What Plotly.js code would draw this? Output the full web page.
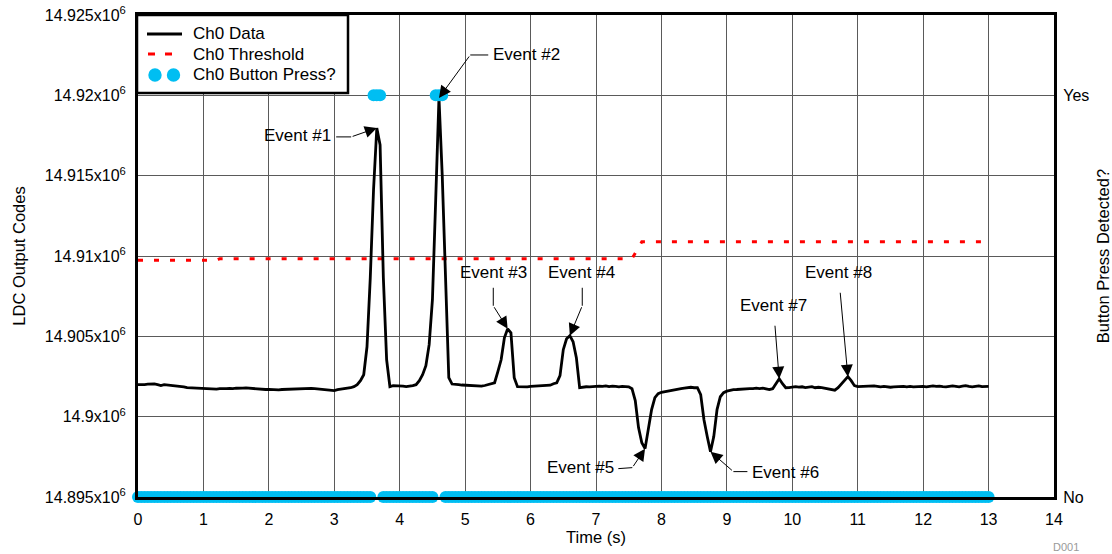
<!DOCTYPE html>
<html><head><meta charset="utf-8">
<script src="https://cdn.plot.ly/plotly-3.0.1.min.js"></script>
<style>html,body{margin:0;padding:0;background:#fff}#chart{width:1112px;height:554px}</style>
</head><body><div id="chart"></div>
<script>
// ---- sample times (s) ----
const timeSec = [
 0,0.05,0.1,0.15,0.2,0.25,0.3,0.35,0.4,0.45,0.5,0.55,0.6,0.65,0.7,0.75,0.8,0.85,0.9,0.95,
 1,1.05,1.1,1.15,1.2,1.25,1.3,1.35,1.4,1.45,1.5,1.55,1.6,1.65,1.7,1.75,1.8,1.85,1.9,1.95,
 2,2.05,2.1,2.15,2.2,2.25,2.3,2.35,2.4,2.45,2.5,2.55,2.6,2.65,2.7,2.75,2.8,2.85,2.9,2.95,
 3,3.05,3.1,3.15,3.2,3.25,3.3,3.35,3.4,3.45,3.5,3.55,3.6,3.65,3.7,3.75,3.8,3.85,3.9,3.95,
 4,4.05,4.1,4.15,4.2,4.25,4.3,4.35,4.4,4.45,4.5,4.55,4.6,4.65,4.7,4.75,4.8,4.85,4.9,4.95,
 5,5.05,5.1,5.15,5.2,5.25,5.3,5.35,5.4,5.45,5.5,5.55,5.6,5.65,5.7,5.75,5.8,5.85,5.9,5.95,
 6,6.05,6.1,6.15,6.2,6.25,6.3,6.35,6.4,6.45,6.5,6.55,6.6,6.65,6.7,6.75,6.8,6.85,6.9,6.95,
 7,7.05,7.1,7.15,7.2,7.25,7.3,7.35,7.4,7.45,7.5,7.55,7.6,7.65,7.7,7.75,7.8,7.85,7.9,7.95,
 8,8.05,8.1,8.15,8.2,8.25,8.3,8.35,8.4,8.45,8.5,8.55,8.6,8.65,8.7,8.75,8.8,8.85,8.9,8.95,
 9,9.05,9.1,9.15,9.2,9.25,9.3,9.35,9.4,9.45,9.5,9.55,9.6,9.65,9.7,9.75,9.8,9.85,9.9,9.95,
 10,10.05,10.1,10.15,10.2,10.25,10.3,10.35,10.4,10.45,10.5,10.55,10.6,10.65,10.7,10.75,10.8,10.85,10.9,10.95,
 11,11.05,11.1,11.15,11.2,11.25,11.3,11.35,11.4,11.45,11.5,11.55,11.6,11.65,11.7,11.75,11.8,11.85,11.9,11.95,
 12,12.05,12.1,12.15,12.2,12.25,12.3,12.35,12.4,12.45,12.5,12.55,12.6,12.65,12.7,12.75,12.8,12.85,12.9,12.95,
 13
];
// ---- Ch0 LDC output codes ----
const ch0Data = [
 14901990,14901980,14902000,14902020,14902050,14902040,14901990,14901930,14901990,14901970,14901960,14901930,14901920,14901870,14901860,14901810,14901800,14901810,14901770,14901750,
 14901740,14901750,14901730,14901740,14901720,14901740,14901730,14901750,14901760,14901740,14901770,14901760,14901780,14901790,14901770,14901760,14901740,14901720,14901700,14901690,
 14901700,14901680,14901690,14901670,14901690,14901700,14901720,14901710,14901730,14901740,14901720,14901750,14901740,14901760,14901750,14901730,14901720,14901700,14901680,14901640,
 14901620,14901680,14901700,14901720,14901750,14901800,14901870,14901990,14902240,14902610,14904350,14908640,14914120,14917970,14916910,14908640,14903540,14901870,14901930,14901920,
 14901940,14901900,14901870,14901880,14901930,14901990,14902240,14902610,14903170,14904480,14907280,14913500,14919840,14915000,14909100,14902430,14902030,14902030,14901990,14901970,
 14901960,14901930,14901920,14901910,14901930,14901900,14901940,14901990,14902030,14902110,14902800,14903540,14904910,14905470,14905220,14902430,14901870,14901860,14901870,14901860,
 14901880,14901900,14901890,14901910,14901920,14901940,14901960,14902050,14902110,14902550,14904170,14904850,14905040,14904660,14903670,14901800,14901840,14901860,14901850,14901880,
 14901870,14901900,14901890,14901920,14901870,14901900,14901880,14901860,14901890,14901870,14901860,14901740,14901000,14899320,14898380,14898010,14899320,14900440,14901180,14901430,
 14901520,14901560,14901620,14901650,14901680,14901710,14901740,14901770,14901800,14901830,14901800,14901810,14901370,14899810,14898760,14897820,14898760,14900440,14901240,14901490,
 14901590,14901650,14901680,14901690,14901710,14901740,14901720,14901750,14901740,14901770,14901750,14901780,14901730,14901680,14901740,14902050,14902360,14902050,14901800,14901810,
 14901830,14901870,14901840,14901860,14901810,14901850,14901870,14901800,14901830,14901810,14901780,14901740,14901690,14901650,14901800,14902050,14902300,14902490,14902240,14901930,
 14901870,14901880,14901900,14901870,14901880,14901920,14901890,14901860,14901880,14901850,14901830,14901860,14901880,14901870,14901890,14901860,14901880,14901850,14901870,14901900,
 14901880,14901860,14901890,14901920,14901880,14901900,14901870,14901850,14901880,14901910,14901890,14901860,14901900,14901930,14901880,14901860,14901890,14901920,14901870,14901890,
 14901880
];
// ---- Ch0 button press detected (0 = No, 1 = Yes) ----
const buttonPress = [
 0,0,0,0,0,0,0,0,0,0,0,0,0,0,0,0,0,0,0,0,
 0,0,0,0,0,0,0,0,0,0,0,0,0,0,0,0,0,0,0,0,
 0,0,0,0,0,0,0,0,0,0,0,0,0,0,0,0,0,0,0,0,
 0,0,0,0,0,0,0,0,0,0,0,0,1,1,1,0,0,0,0,0,
 0,0,0,0,0,0,0,0,0,0,0,1,1,1,0,0,0,0,0,0,
 0,0,0,0,0,0,0,0,0,0,0,0,0,0,0,0,0,0,0,0,
 0,0,0,0,0,0,0,0,0,0,0,0,0,0,0,0,0,0,0,0,
 0,0,0,0,0,0,0,0,0,0,0,0,0,0,0,0,0,0,0,0,
 0,0,0,0,0,0,0,0,0,0,0,0,0,0,0,0,0,0,0,0,
 0,0,0,0,0,0,0,0,0,0,0,0,0,0,0,0,0,0,0,0,
 0,0,0,0,0,0,0,0,0,0,0,0,0,0,0,0,0,0,0,0,
 0,0,0,0,0,0,0,0,0,0,0,0,0,0,0,0,0,0,0,0,
 0,0,0,0,0,0,0,0,0,0,0,0,0,0,0,0,0,0,0,0,
 0
];
// ---- Ch0 threshold ----
const thresholdTime  = [0, 1.2, 1.25, 7.55, 7.7, 13];
const thresholdValue = [14909730, 14909730, 14909830, 14909830, 14910880, 14910880];
// ---- ticks ----
const xTickValues = [0,1,2,3,4,5,6,7,8,9,10,11,12,13,14];
const yTickValues = [14895000,14900000,14905000,14910000,14915000,14920000,14925000];
const yTickLabels = ['14.895x10<sup>6</sup>','14.9x10<sup>6</sup>','14.905x10<sup>6</sup>','14.91x10<sup>6</sup>','14.915x10<sup>6</sup>','14.92x10<sup>6</sup>','14.925x10<sup>6</sup>'];
const buttonTickValues = [0, 1];
const buttonTickLabels = ['No', 'Yes'];
// ---- series names ----
const seriesNames = ['Ch0 Data', 'Ch0 Threshold', 'Ch0 Button Press?'];
// ---- events ----
const eventLabels = ['Event #1','Event #2','Event #3','Event #4','Event #5','Event #6','Event #7','Event #8'];
const eventTimes  = [3.65, 4.6, 5.65, 6.6, 7.75, 8.75, 9.8, 10.85];

// label placement (layout only): text position, leader segment, arrow tail
const eventLayout = [
 {tx:2.431, ty:14917475, seg:[[3.029,14917413],[3.258,14917413]], tail:[3.258,14917413]},
 {tx:5.934, ty:14922512, seg:[[5.353,14922512],[5.078,14922512]], tail:[5.078,14922512]},
 {tx:5.430, ty:14908955, seg:[[5.430,14908022],[5.430,14906903]], tail:[5.430,14906903]},
 {tx:6.775, ty:14908955, seg:[[6.790,14908022],[6.790,14906903]], tail:[6.790,14906903]},
 {tx:6.760, ty:14896828, seg:[[7.341,14896766],[7.555,14896828]], tail:[7.555,14896828]},
 {tx:9.895, ty:14896517, seg:[[9.314,14896580],[9.100,14896580]], tail:[9.100,14896580]},
 {tx:9.711, ty:14906903, seg:null, tail:null},
 {tx:10.705, ty:14908955, seg:null, tail:null}
];

const FONT = 'Liberation Sans, Arial, Helvetica, sans-serif';
const COLORS = {data:'#000000', threshold:'#FF0000', press:'#00BEF2'};
const annotations = [];
const shapes = [];
eventLabels.forEach((lab, i) => {
  const idx = timeSec.findIndex(t => Math.abs(t - eventTimes[i]) < 1e-9);
  const L = eventLayout[i];
  if (L.tail) {
    annotations.push({x:L.tx, y:L.ty, xref:'x', yref:'y', text:lab, showarrow:false,
      font:{family:FONT, size:17, color:'#000'}, xanchor:'center', yanchor:'middle'});
    annotations.push({x:timeSec[idx], y:ch0Data[idx], xref:'x', yref:'y',
      ax:L.tail[0], ay:L.tail[1], axref:'x', ayref:'y', text:'', showarrow:true,
      arrowhead:2, arrowsize:2.4, arrowwidth:1, arrowcolor:'#000', standoff:0, startstandoff:0});
    shapes.push({type:'line', xref:'x', yref:'y', x0:L.seg[0][0], y0:L.seg[0][1],
      x1:L.seg[1][0], y1:L.seg[1][1], line:{color:'#000', width:1}});
  } else {
    annotations.push({x:timeSec[idx], y:ch0Data[idx], xref:'x', yref:'y',
      ax:L.tx, ay:L.ty, axref:'x', ayref:'y', text:lab, showarrow:true,
      arrowhead:2, arrowsize:2.4, arrowwidth:1, arrowcolor:'#000', standoff:0, startstandoff:9,
      font:{family:FONT, size:17, color:'#000'}});
  }
});
annotations.push({x:1.013, y:-0.103, xref:'paper', yref:'paper', text:'D001', showarrow:false,
  font:{family:FONT, size:11, color:'#999'}, xanchor:'center', yanchor:'middle'});

// ---- hand-built legend box (paper coordinates) ----
const px2x = px => (px - 138) / 916;
const py2y = py => (497.5 - py) / 482.5;
shapes.push({type:'rect', xref:'paper', yref:'paper', layer:'above',
  x0:px2x(137), x1:px2x(348), y0:py2y(93), y1:py2y(15),
  fillcolor:'#fff', line:{color:'#000', width:2.5}});
shapes.push({type:'line', xref:'paper', yref:'paper', layer:'above',
  x0:px2x(147), x1:px2x(182), y0:py2y(34), y1:py2y(34), line:{color:COLORS.data, width:3}});
shapes.push({type:'line', xref:'paper', yref:'paper', layer:'above',
  x0:px2x(148), x1:px2x(172), y0:py2y(54), y1:py2y(54), line:{color:COLORS.threshold, width:3, dash:'7px,10px'}});
[155, 173.5].forEach(cx => shapes.push({type:'circle', xref:'paper', yref:'paper', layer:'above',
  xsizemode:'pixel', ysizemode:'pixel', xanchor:px2x(cx), yanchor:py2y(75),
  x0:-6.7, x1:6.7, y0:-6.7, y1:6.7, fillcolor:COLORS.press, line:{width:0}}));
[34, 55, 75].forEach((py, i) => annotations.push({x:px2x(191), y:py2y(py), xref:'paper', yref:'paper',
  text:seriesNames[i], showarrow:false, xanchor:'left', yanchor:'middle',
  font:{family:FONT, size:17, color:'#000'}}));

const traces = [
 {x:timeSec, y:buttonPress, yaxis:'y2', type:'scatter', mode:'markers', name:seriesNames[2],
  marker:{color:COLORS.press, size:12, line:{width:0}}, cliponaxis:false},
 {x:thresholdTime, y:thresholdValue, type:'scatter', mode:'lines', name:seriesNames[1],
  line:{color:COLORS.threshold, width:3, dash:'5px,11px'}},
 {x:timeSec, y:ch0Data, type:'scatter', mode:'lines', name:seriesNames[0],
  line:{color:COLORS.data, width:2.8}}
];

const axisCommon = {showline:true, linewidth:3, linecolor:'#000', mirror:true, zeroline:false,
  showgrid:true, gridcolor:'#5a5a5a', gridwidth:1, ticks:'outside', tickcolor:'rgba(0,0,0,0)',
  automargin:false, tickfont:{family:FONT, size:16, color:'#000'}};

const layout = {
  width:1112, height:554,
  margin:{l:138, r:58, t:15, b:57, pad:0},
  paper_bgcolor:'#fff', plot_bgcolor:'#fff',
  font:{family:FONT, color:'#000'},
  showlegend:false,
  xaxis:Object.assign({}, axisCommon, {range:[0,14], tickmode:'array', tickvals:xTickValues, ticklen:6,
    title:{text:'Time (s)', font:{family:FONT, size:16.5, color:'#000'}, standoff:4}}),
  yaxis:Object.assign({}, axisCommon, {range:[14895000,14925000], tickmode:'array', tickvals:yTickValues,
    ticktext:yTickLabels, ticklen:6,
    title:{text:'LDC Output Codes', font:{family:FONT, size:16.5, color:'#000'}, standoff:16}}),
  yaxis2:{overlaying:'y', side:'right', range:[0,1.2], tickmode:'array', tickvals:buttonTickValues,
    ticktext:buttonTickLabels, showgrid:false, zeroline:false, showline:false, ticks:'outside', ticklen:5,
    tickcolor:'rgba(0,0,0,0)', automargin:false, tickfont:{family:FONT, size:16, color:'#000'},
    title:{text:'Button Press Detected?', font:{family:FONT, size:16.5, color:'#000'}, standoff:10}},
  annotations:annotations,
  shapes:shapes
};

Plotly.newPlot('chart', traces, layout, {displayModeBar:false, staticPlot:true});
</script>
</body></html>
